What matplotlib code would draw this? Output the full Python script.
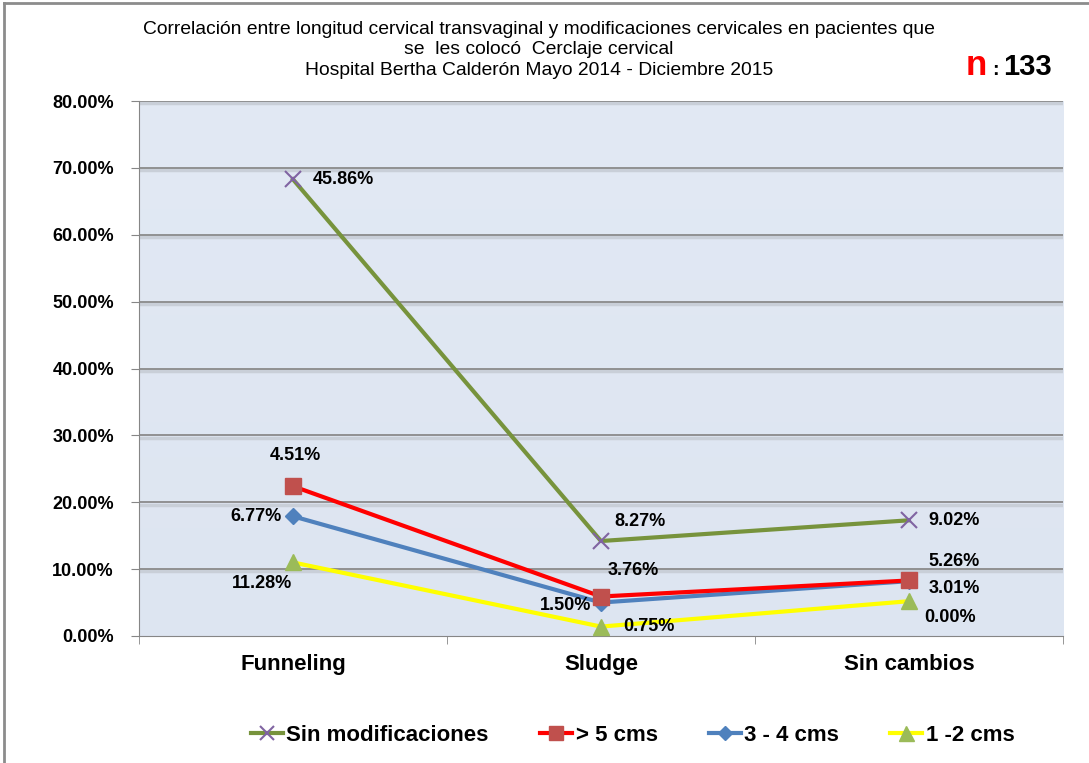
import numpy as np
import matplotlib.pyplot as plt
from matplotlib.ticker import FuncFormatter, FixedLocator
from matplotlib.lines import Line2D
from matplotlib.colors import LinearSegmentedColormap

plt.rcParams['font.family'] = ['Liberation Sans', 'DejaVu Sans']

# Datos
categorias = ['Funneling', 'Sludge', 'Sin cambios']
sin_modif = [68.3, 14.2, 17.3]
mayor_5 = [22.4, 5.9, 8.3]
de_3_4 = [17.9, 5.0, 8.2]
de_1_2 = [11.0, 1.4, 5.2]

lab_sin_modif = ['45.86%', '8.27%', '9.02%']
lab_mayor_5 = ['4.51%', '3.76%', '5.26%']
lab_3_4 = ['6.77%', '1.50%', '3.01%']
lab_1_2 = ['11.28%', '0.75%', '0.00%']

fig = plt.figure(figsize=(10.89, 7.63), dpi=100)
ax = fig.add_axes([0.1276, 0.1665, 0.8485, 0.701])

x = np.arange(len(categorias))

# Fondo degradado del area de grafico
grad = np.linspace(0, 1, 256).reshape(-1, 1)
cmap = LinearSegmentedColormap.from_list('bg', ['#dde5f1', '#e2e9f4'])
ax.imshow(grad, extent=[-0.5, 2.5, 0, 80], aspect='auto', cmap=cmap, zorder=0, origin='lower')

# Lineas de cuadricula con sombra
for yv in range(10, 90, 10):
    ax.axhline(yv - 0.35, color='#c9cfd8', lw=2.5, zorder=1)
    ax.axhline(yv, color='#8a8a8a', lw=1.3, zorder=1)

ax.plot(x, sin_modif, color='#77933c', lw=3, marker='x', ms=11, mew=1.5,
        mec='#8064a2', label='Sin modificaciones', zorder=3)
ax.plot(x, mayor_5, color='#ff0000', lw=3, marker='s', ms=11,
        mfc='#c0504d', mec='#c0504d', label='> 5 cms', zorder=4)
ax.plot(x, de_3_4, color='#4f81bd', lw=3, marker='D', ms=8,
        mfc='#4f81bd', mec='#4f81bd', label='3 - 4 cms', zorder=3)
ax.plot(x, de_1_2, color='#ffff00', lw=3, marker='^', ms=12,
        mfc='#9bbb59', mec='#9bbb59', label='1 -2 cms', zorder=5)

ax.set_xlim(-0.5, 2.5)
ax.set_ylim(0, 80)

# Etiquetas de datos (desplazamiento en puntos)
kw = dict(fontsize=13, fontweight='bold', zorder=6)
offs = {
    'sin': [(14, 0, 'left'), (10, 14, 'left'), (14, 0, 'left')],
    'm5': [(2, 22, 'center'), (5, 19, 'left'), (14, 14, 'left')],
    'm34': [(-8, 0, 'right'), (-7, -2, 'right'), (14, -5, 'left')],
    'm12': [(-22, -15, 'center'), (16, 0, 'left'), (11, -12, 'left')],
}
for serie, labs, key in [(sin_modif, lab_sin_modif, 'sin'), (mayor_5, lab_mayor_5, 'm5'),
                         (de_3_4, lab_3_4, 'm34'), (de_1_2, lab_1_2, 'm12')]:
    for i, (v, t) in enumerate(zip(serie, labs)):
        dx, dy, ha = offs[key][i]
        ax.annotate(t, (x[i], v), xytext=(dx, dy), textcoords='offset points',
                    ha=ha, va='center', **kw)

# Ejes
ax.yaxis.set_major_locator(FixedLocator(np.arange(0, 90, 10)))
ax.yaxis.set_major_formatter(FuncFormatter(lambda v, p: '%.2f%%' % v))
ax.set_xticks(x)
ax.set_xticklabels(categorias, fontsize=16, fontweight='bold')
ax.set_xticks([-0.5, 0.5, 1.5, 2.5], minor=True)
ax.tick_params(axis='x', which='major', length=0, pad=13)
ax.tick_params(axis='x', which='minor', length=6, color='#868686', direction='out')
ax.tick_params(axis='y', length=6, color='#868686', labelsize=13, pad=12)
for lab in ax.get_yticklabels():
    lab.set_fontweight('bold')
for s in ['top', 'right']:
    ax.spines[s].set_visible(False)
for s in ['left', 'bottom']:
    ax.spines[s].set_color('#868686')

# Titulo
fig.text(0.495, 0.972, 'Correlación entre longitud cervical transvaginal y modificaciones cervicales en pacientes que\n'
         'se  les colocó  Cerclaje cervical\nHospital Bertha Calderón Mayo 2014 - Diciembre 2015',
         ha='center', va='top', fontsize=13.9, linespacing=1.24)
fig.text(0.887, 0.902, 'n', color='#ff0000', fontsize=25, fontweight='bold', ha='left', va='baseline')
fig.text(0.911, 0.902, ':', fontsize=14, fontweight='bold', ha='left', va='baseline')
fig.text(0.921, 0.902, '133', fontsize=21, fontweight='bold', ha='left', va='baseline')

# Leyenda
fig.legend(loc='center', bbox_to_anchor=(0.581, 0.036), ncol=4, frameon=False,
           prop={'size': 16, 'weight': 'bold'}, handlelength=1.45, handletextpad=0.15,
           columnspacing=2.3, markerscale=0.9)

# Marco exterior (solo arriba e izquierda visibles)
fig.add_artist(Line2D([0.004, 0.004], [0, 0.996], color='#8c8c8c', lw=2, transform=fig.transFigure))
fig.add_artist(Line2D([0.004, 1.0], [0.996, 0.996], color='#8c8c8c', lw=2, transform=fig.transFigure))

fig.savefig('out.png', dpi=100)
